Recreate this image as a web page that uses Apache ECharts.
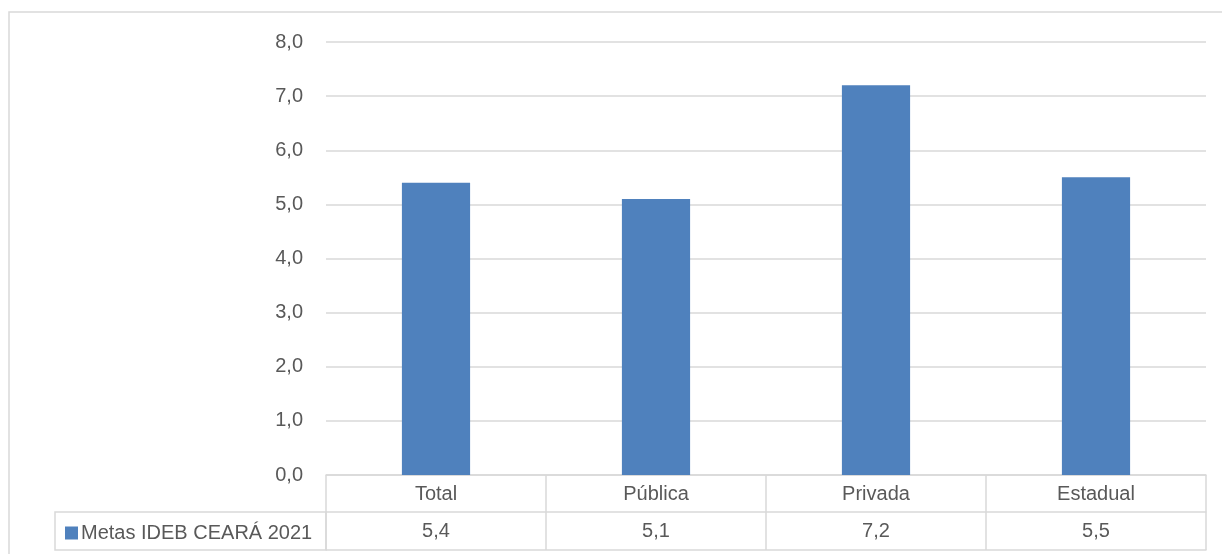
<!DOCTYPE html>
<html><head><meta charset="utf-8">
<script src="https://cdn.jsdelivr.net/npm/echarts@6/dist/echarts.min.js"></script>
<style>html,body{margin:0;padding:0;background:#fff}#c{width:1222px;height:554px}</style>
</head><body><div id="c"></div>
<script>
const categories = ['Total', 'Pública', 'Privada', 'Estadual'];
const seriesName = 'Metas IDEB CEARÁ 2021';
const values = [5.4, 5.1, 7.2, 5.5];
const yTicks = { min: 0, max: 8, interval: 1 };

const fmt = v => Number(v).toFixed(1).replace('.', ',');
const FONT = 'Liberation Sans';
const TXT = '#595959';
const LINE = '#D9D9D9';
const FS = 20;

const chart = echarts.init(document.getElementById('c'), null, { renderer: 'canvas' });
chart.setOption({
  animation: false,
  backgroundColor: '#fff',
  grid: { left: 326, right: 16, top: 42, bottom: 79, containLabel: false },
  legend: {
    left: 60, top: 518, itemWidth: 13, itemHeight: 13, itemGap: 0,
    icon: 'rect', textStyle: { color: TXT, fontFamily: FONT, fontSize: FS, padding: [0,0,0,-2] },
    data: [seriesName]
  },
  xAxis: [
    { type: 'category', data: categories, position: 'bottom',
      axisLine: { show: true, lineStyle: { color: LINE, width: 1.5 } },
      axisTick: { show: true, length: 75, lineStyle: { color: LINE, width: 1.5 } },
      axisLabel: { color: TXT, fontFamily: FONT, fontSize: FS, margin: 9 } },
    { type: 'category', data: values.map(fmt), position: 'bottom', offset: 37,
      axisLine: { show: true, lineStyle: { color: LINE, width: 1.5 } },
      axisTick: { show: false },
      axisLabel: { color: TXT, fontFamily: FONT, fontSize: FS, margin: 9 } },
    { type: 'category', data: categories, position: 'bottom', offset: 75,
      axisLine: { show: true, lineStyle: { color: LINE, width: 1.5 } },
      axisTick: { show: false }, axisLabel: { show: false } }
  ],
  yAxis: {
    type: 'value', min: yTicks.min, max: yTicks.max, interval: yTicks.interval,
    axisLine: { show: false }, axisTick: { show: false },
    splitLine: { lineStyle: { color: LINE, width: 1.5 } },
    axisLabel: { color: TXT, fontFamily: FONT, fontSize: FS, margin: 23, formatter: fmt }
  },
  series: [{
    name: seriesName, type: 'bar', data: values, barWidth: '31%',
    itemStyle: { color: '#4F81BD' }
  }],
  graphic: [
    { type: 'rect', shape: { x: 55, y: 512, width: 271, height: 38 }, z: 100,
      style: { fill: 'none', stroke: LINE, lineWidth: 1.5 } },
    { type: 'polyline', shape: { points: [[9, 560], [9, 12], [1230, 12]] }, z: 100,
      style: { fill: 'none', stroke: LINE, lineWidth: 1.5 } }
  ]
});
</script></body></html>
